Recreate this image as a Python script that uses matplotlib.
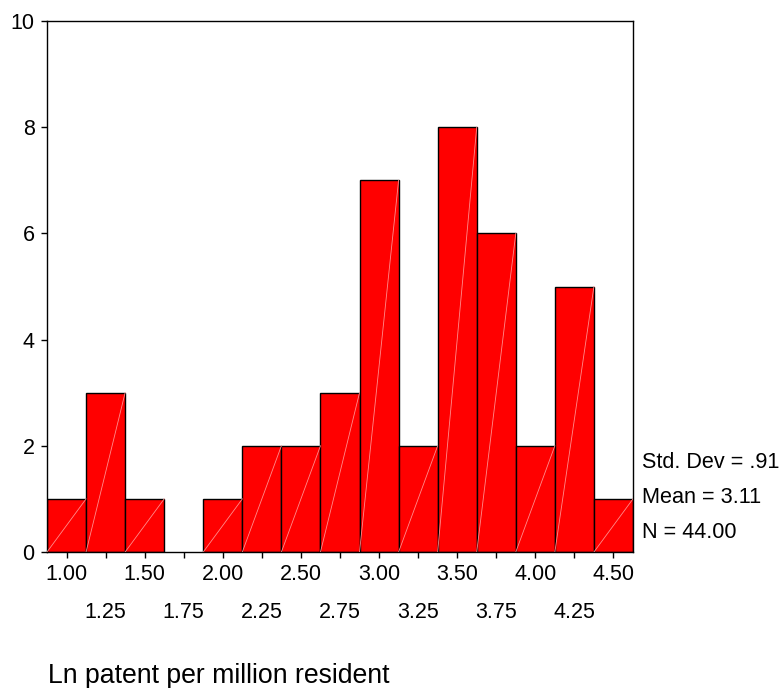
import matplotlib
matplotlib.use("Agg")
import matplotlib.pyplot as plt
from matplotlib.ticker import FixedLocator, FixedFormatter

plt.rcParams['font.family'] = ['Liberation Sans', 'DejaVu Sans']

# Data
bin_centers = [1.00, 1.25, 1.50, 1.75, 2.00, 2.25, 2.50, 2.75, 3.00, 3.25, 3.50, 3.75, 4.00, 4.25, 4.50]
counts = [1, 3, 1, 0, 1, 2, 2, 3, 7, 2, 8, 6, 2, 5, 1]
bin_width = 0.25
major_ticks = [1.00, 1.50, 2.00, 2.50, 3.00, 3.50, 4.00, 4.50]
minor_ticks = [1.25, 1.75, 2.25, 2.75, 3.25, 3.75, 4.25]
y_ticks = [0, 2, 4, 6, 8, 10]
stats_lines = ["Std. Dev = .91", "Mean = 3.11", "N = 44.00"]
x_title = "Ln patent per million resident"

W, H = 782, 688
fig = plt.figure(figsize=(W / 100, H / 100), dpi=100)
ax = fig.add_axes([47 / W, 1 - 552 / H, (633 - 47) / W, (552 - 21) / H])

for c, n in zip(bin_centers, counts):
    if n <= 0:
        continue
    left = c - bin_width / 2
    ax.bar(c, n, width=bin_width, color='#ff0000', edgecolor='black', linewidth=1.0, zorder=2)
    ax.plot([left, left + bin_width], [0, n], color='#ff8c8c', linewidth=0.6, zorder=3)

ax.set_xlim(bin_centers[0] - bin_width / 2, bin_centers[-1] + bin_width / 2)
ax.set_ylim(0, 10)

ax.xaxis.set_major_locator(FixedLocator(major_ticks))
ax.xaxis.set_major_formatter(FixedFormatter([f"{v:.2f}" for v in major_ticks]))
ax.xaxis.set_minor_locator(FixedLocator(minor_ticks))
ax.xaxis.set_minor_formatter(FixedFormatter([f"{v:.2f}" for v in minor_ticks]))
ax.set_yticks(y_ticks)
ax.set_yticklabels([str(v) for v in y_ticks])

ax.tick_params(axis='x', which='major', direction='out', length=4, width=1, pad=4.5, labelsize=15.5)
ax.tick_params(axis='x', which='minor', direction='out', length=4, width=1, pad=32, labelsize=15.5)
ax.tick_params(axis='y', direction='out', length=4, width=1, pad=5, labelsize=15.5)

for s in ax.spines.values():
    s.set_linewidth(1.0)
    s.set_color('black')

fig.text(48 / W, 1 - 676 / H, x_title, ha='left', va='center', fontsize=19.2)

for i, line in enumerate(stats_lines):
    fig.text(642 / W, 1 - (462 + 35.5 * i) / H, line, ha='left', va='center', fontsize=15.6)

fig.savefig("out.png", dpi=100)
